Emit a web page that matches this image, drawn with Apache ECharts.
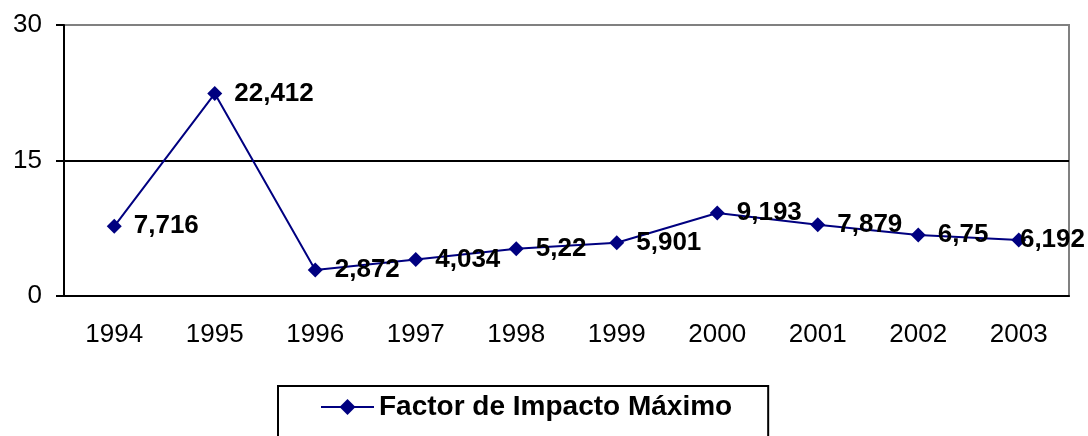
<!DOCTYPE html>
<html>
<head>
<meta charset="utf-8">
<script src="https://cdn.jsdelivr.net/npm/echarts@6/dist/echarts.min.js"></script>
<style>
  html, body { margin: 0; padding: 0; background: #fff; }
  #chart { width: 1088px; height: 436px; }
</style>
</head>
<body>
<div id="chart"></div>
<script>
// datos
const years = ['1994', '1995', '1996', '1997', '1998', '1999', '2000', '2001', '2002', '2003'];
const factorMax = [7.716, 22.412, 2.872, 4.034, 5.22, 5.901, 9.193, 7.879, 6.75, 6.192];
const seriesName = 'Factor de Impacto Máximo';

const chartWidth = 1088;
const chart = echarts.init(document.getElementById('chart'));

const option = {
    animation: false,
    textStyle: { fontFamily: 'Liberation Sans, Arial, sans-serif' },
    grid: {
        left: 64,
        right: 19,
        top: 25,
        bottom: 140,
        show: true,
        borderColor: '#808080',
        borderWidth: 2,
    },
    legend: {
        left: 278,
        top: 386,
        padding: [7, 36, 40, 42],
        borderColor: '#000',
        borderWidth: 2,
        itemWidth: 53,
        itemHeight: 20,
        itemGap: 10,
        itemStyle: { color: '#000080' },
        lineStyle: { color: '#000080', width: 2 },
        textStyle: {
            fontSize: 28,
            fontWeight: 'bold',
            color: '#000',
        },
        data: [seriesName],
    },
    xAxis: {
        type: 'category',
        data: years,
        boundaryGap: true,
        axisLine: { lineStyle: { color: '#000', width: 2 } },
        axisTick: { length: 8, lineStyle: { color: '#000', width: 2 } },
        axisLabel: { color: '#000', fontSize: 26, margin: 26 },
    },
    yAxis: {
        type: 'value',
        min: 0,
        max: 30,
        interval: 15,
        axisLine: { show: true, lineStyle: { color: '#000', width: 2 } },
        axisTick: { show: true, length: 8, lineStyle: { color: '#000', width: 2 } },
        axisLabel: { color: '#000', fontSize: 26, margin: 22 },
        splitLine: {
            show: true,
            lineStyle: { color: ['#000', '#000', '#808080'], width: 2 },
        },
    },
    series: [
        {
            name: seriesName,
            type: 'line',
            data: factorMax,
            symbol: 'diamond',
            symbolSize: 15,
            lineStyle: { color: '#000080', width: 2 },
            itemStyle: { color: '#000080' },
            label: {
                show: true,
                position: 'right',
                distance: 12,
                color: '#000',
                fontSize: 26,
                fontWeight: 'bold',
                formatter: (p) => String(p.value).replace('.', ','),
            },
        },
    ],
    // el ultimo rotulo se corre a la izquierda para que quepa en el lienzo
    labelLayout: (params) => {
        const r = params.labelRect;
        if (r.x + r.width > chartWidth - 3) {
            return { x: chartWidth - 3 - r.width, y: r.y + r.height / 2, align: 'left', verticalAlign: 'middle' };
        }
        return {};
    },
};

chart.setOption(option);
</script>
</body>
</html>
